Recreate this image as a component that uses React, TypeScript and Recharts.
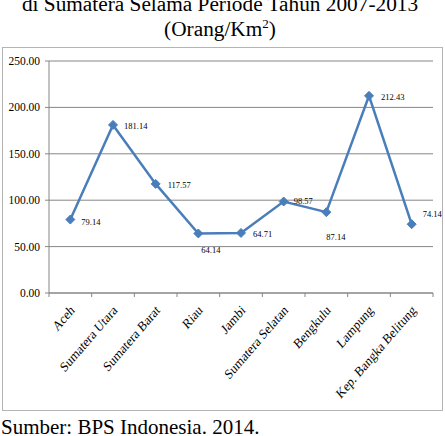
import React from 'react';
import { LineChart, Line, XAxis, YAxis, CartesianGrid } from 'recharts';

// Kepadatan penduduk per provinsi (Orang/Km²)
const provinces = [
  'Aceh',
  'Sumatera Utara',
  'Sumatera Barat',
  'Riau',
  'Jambi',
  'Sumatera Selatan',
  'Bengkulu',
  'Lampung',
  'Kep. Bangka Belitung',
];
const density = [79.14, 181.14, 117.57, 64.14, 64.71, 98.57, 87.14, 212.43, 74.14];
const yTicks = [0, 50, 100, 150, 200, 250];

const data = provinces.map((name, i) => ({ name, value: density[i] }));

// geometry
const CHART_W = 445;
const CHART_H = 411;
const MARGIN = { top: 61, right: 12, left: 0, bottom: 0 };
const Y_AXIS_W = 49;
const X_AXIS_H = CHART_H - 293 - MARGIN.bottom;
const PLOT_W = CHART_W - MARGIN.left - MARGIN.right - Y_AXIS_W;
const HALF_BAND = PLOT_W / provinces.length / 2;

const LINE_COLOR = '#4a7ebb';
const AXIS_COLOR = '#868686';
const FONT = '"Liberation Serif", "Times New Roman", serif';

// where each value label sits relative to its marker: [dx, dy]
const labelOffsets: [number, number][] = [
  [11, 2],
  [11, 1],
  [12, 1],
  [3, 17],
  [12, 1],
  [10, -1],
  [0, 25],
  [12, 1],
  [11, -10],
];

const CategoryTick = (props: any) => {
  const { x, y, payload, index } = props;
  const ax = x + 5;
  const ay = y + 18;
  return (
    <g>
      <line x1={x - HALF_BAND} y1={y} x2={x - HALF_BAND} y2={y + 4} stroke={AXIS_COLOR} />
      {index === provinces.length - 1 && (
        <line x1={x + HALF_BAND} y1={y} x2={x + HALF_BAND} y2={y + 4} stroke={AXIS_COLOR} />
      )}
      <text
        x={0}
        y={0}
        textAnchor="end"
        transform={`translate(${ax}, ${ay}) scale(0.86, 1) rotate(-45)`}
        fontFamily={FONT}
        fontSize={14}
        fill="#000"
      >
        {payload.value}
      </text>
    </g>
  );
};

const Diamond = (props: any) => {
  const { cx, cy, index } = props;
  const r = 4.5;
  return (
    <polygon
      key={`d-${index}`}
      points={`${cx},${cy - r} ${cx + r},${cy} ${cx},${cy + r} ${cx - r},${cy}`}
      fill={LINE_COLOR}
      stroke={LINE_COLOR}
      strokeWidth={1}
    />
  );
};

const ValueLabel = (props: any) => {
  const { x, y, value, index } = props;
  const [dx, dy] = labelOffsets[index] ?? [10, 0];
  return (
    <text
      key={`l-${index}`}
      x={x + dx}
      y={y + dy}
      dominantBaseline="central"
      fontFamily={FONT}
      fontSize={8.5}
      fill="#000"
    >
      {Number(value).toFixed(2)}
    </text>
  );
};

export default function App() {
  return (
    <div style={{ position: 'absolute', left: 0, top: 0, width: 445, height: 436, background: '#fff', overflow: 'hidden' }}>
      <svg width={445} height={436} style={{ position: 'absolute', left: 0, top: 0 }}>
        <text x={220} y={11} textAnchor="middle" fontFamily={FONT} fontSize={21.3} fill="#000">
          di Sumatera Selama Periode Tahun 2007-2013
        </text>
        <text x={220} y={36} textAnchor="middle" fontFamily={FONT} fontSize={21.3} fill="#000">
          (Orang/Km
          <tspan dy={-8} fontSize={13}>2</tspan>
          <tspan dy={8}>)</tspan>
        </text>
        <text x={1} y={434} fontFamily={FONT} fontSize={21} fill="#000">
          Sumber: BPS Indonesia. 2014.
        </text>
        <rect x={2.5} y={47.5} width={440} height={363} fill="#fff" stroke="#b4b4b4" strokeWidth={1} />
      </svg>
      <div style={{ position: 'absolute', left: 0, top: 0 }}>
        <LineChart width={CHART_W} height={CHART_H} data={data} margin={MARGIN}>
          <CartesianGrid horizontal vertical={false} stroke={AXIS_COLOR} strokeWidth={1} />
          <XAxis
            dataKey="name"
            interval={0}
            height={X_AXIS_H}
            padding={{ left: HALF_BAND, right: HALF_BAND }}
            tickSize={0}
            tickMargin={0}
            tickLine={false}
            axisLine={{ stroke: AXIS_COLOR }}
            tick={<CategoryTick />}
          />
          <YAxis
            width={Y_AXIS_W}
            domain={[0, 250]}
            ticks={yTicks}
            interval={0}
            tickSize={4}
            tickMargin={5}
            tickLine={{ stroke: AXIS_COLOR }}
            axisLine={{ stroke: AXIS_COLOR }}
            tickFormatter={(v: number) => v.toFixed(2)}
            tick={{ fontFamily: FONT, fontSize: 11.5, fill: '#000' }}
          />
          <Line
            type="linear"
            dataKey="value"
            stroke={LINE_COLOR}
            strokeWidth={2.5}
            dot={<Diamond />}
            activeDot={false}
            label={<ValueLabel />}
            isAnimationActive={false}
          />
        </LineChart>
      </div>
    </div>
  );
}
